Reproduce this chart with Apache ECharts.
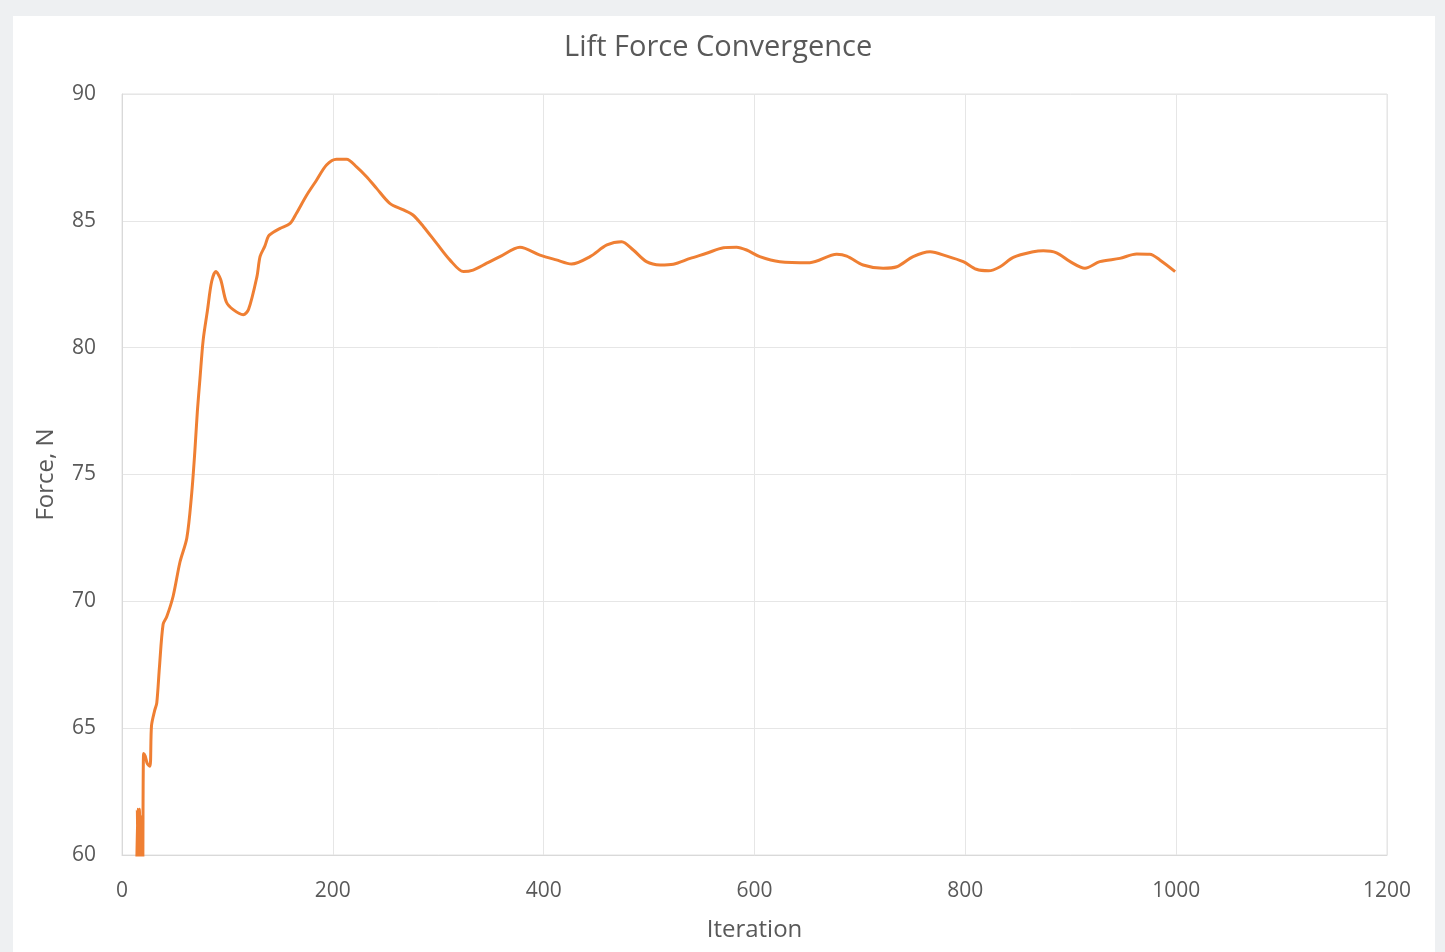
<!DOCTYPE html>
<html style="height: 100%">
<head>
    <meta charset="utf-8">
    <script type="text/javascript" src="https://cdn.jsdelivr.net/npm/echarts/dist/echarts.min.js"></script>
</head>
<body style="height: 100%; margin: 0; background: #eef0f2; overflow: hidden">
    <!-- white card like in the screenshot -->
    <div id="container" style="position: absolute; left: 13px; top: 16px; width: 1422px; height: 936px; background: #fff"></div>
    <script type="text/javascript">

// iteration numbers and lift force
var iterations = [13, 14.5, 15.5, 16.5, 17.5, 18.5, 19.5, 20.5, 22, 24, 26.5, 28, 31, 33, 35.5, 39, 42.5,
    48.5, 55, 61.5, 66, 69, 71.5, 74, 77, 81, 85, 89, 93.5, 99, 105.5, 115, 120, 128, 131, 135.5,
    139, 143.5, 150, 159.5, 165.5, 175, 184.5, 194, 203.5, 213, 222.5, 232, 241.5, 254, 267, 276,
    286, 298.5, 311, 324, 333, 346, 358.5, 377.5, 396.5, 412, 426.5, 444, 460, 474, 485, 497.5,
    510.5, 523, 539, 554.5, 570.5, 583, 592.5, 605, 624, 652.5, 678, 687.5, 703, 722, 735, 750.5,
    766.5, 782.5, 798, 810.5, 822, 833, 845.5, 864.5, 874, 886.5, 899.5, 913.5, 927.5, 946.5, 962.5,
    975, 984.5, 999];
var forces = [55, 61.8, 59, 61.8, 59, 61.5, 57, 64.0, 63.9, 63.6, 63.5, 65.1, 65.7, 66.0, 67.4, 69.1, 69.4,
    70.2, 71.55, 72.5, 74.2, 75.85, 77.5, 78.8, 80.3, 81.45, 82.6, 83.0, 82.7, 81.8, 81.5, 81.3, 81.5, 82.8, 83.6, 84.0,
    84.4, 84.55, 84.7, 84.9, 85.3, 86.0, 86.6, 87.2, 87.43, 87.43, 87.13, 86.74, 86.28, 85.69, 85.43, 85.23,
    84.77, 84.11, 83.46, 83.0, 83.06, 83.33, 83.59, 83.96, 83.65, 83.46, 83.3, 83.59, 84.05, 84.18, 83.85, 83.39,
    83.26, 83.29, 83.52, 83.72, 83.94, 83.96, 83.85, 83.59, 83.39, 83.35, 83.68, 83.61, 83.26, 83.13, 83.19, 83.59,
    83.78, 83.61, 83.39, 83.09, 83.03, 83.19, 83.56, 83.78, 83.82, 83.74, 83.39, 83.13, 83.39, 83.52, 83.69,
    83.68, 83.46, 83.0];

var xTicks = [0, 200, 400, 600, 800, 1000, 1200];
var yTicks = [60, 65, 70, 75, 80, 85, 90];

var points = iterations.map(function (it, i) {
    return [it, forces[i]];
});

var dom = document.getElementById("container");
var myChart = echarts.init(dom);
var textColor = '#595959';
var font = '"Open Sans", sans-serif';

var option = {
    animation: false,
    title: {
        text: 'Lift Force Convergence',
        left: 546,
        top: 12,
        textStyle: { color: textColor, fontFamily: font, fontSize: 29, fontWeight: 'normal' }
    },
    grid: {
        left: 109,
        right: 48,
        top: 78,
        bottom: 97,
        show: true,
        borderColor: '#e3e3e3',
        borderWidth: 1
    },
    xAxis: {
        type: 'value',
        min: xTicks[0],
        max: xTicks[xTicks.length - 1],
        interval: 200,
        name: 'Iteration',
        nameLocation: 'middle',
        nameGap: 63,
        nameTextStyle: { color: textColor, fontFamily: font, fontSize: 24 },
        axisLine: { lineStyle: { color: '#d9d9d9', width: 1 } },
        axisTick: { show: false },
        // no thousands separator, like the reference
        axisLabel: { color: textColor, fontFamily: font, fontSize: 21, margin: 26, formatter: function (v) { return String(v); } },
        splitLine: { show: true, lineStyle: { color: '#e6e6e6', width: 1 } }
    },
    yAxis: {
        type: 'value',
        min: yTicks[0],
        max: yTicks[yTicks.length - 1],
        interval: 5,
        name: 'Force, N',
        nameLocation: 'middle',
        nameGap: 64,
        nameTextStyle: { color: textColor, fontFamily: font, fontSize: 24 },
        axisLine: { show: true, lineStyle: { color: '#d9d9d9', width: 1 } },
        axisTick: { show: false },
        axisLabel: { color: textColor, fontFamily: font, fontSize: 21, margin: 26 },
        splitLine: { show: true, lineStyle: { color: '#e6e6e6', width: 1 } }
    },
    series: [{
        type: 'line',
        data: points,
        showSymbol: false,
        smooth: 0.3,
        clip: true,
        lineStyle: { color: '#EF7F33', width: 3 }
    }]
};

myChart.setOption(option);
    </script>
</body>
</html>
